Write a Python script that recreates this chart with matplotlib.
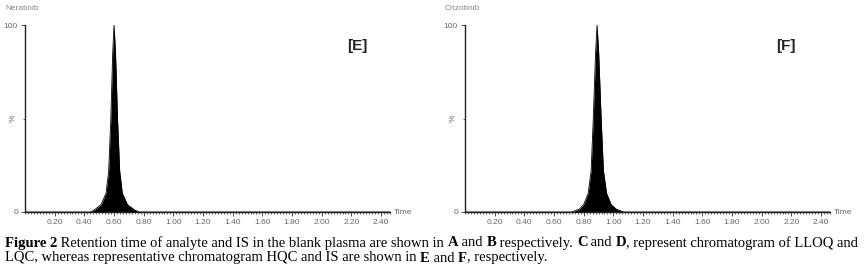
import matplotlib.pyplot as plt
import numpy as np
from matplotlib.ticker import MultipleLocator, FixedLocator

# peak profiles (time offset from apex in min, % intensity)
ner_apex = 0.60
ner_offsets = [-0.60, -0.16, -0.135, -0.087, -0.054, -0.036, -0.022, -0.009, 0.0,
               0.010, 0.024, 0.038, 0.056, 0.090, 0.140, 0.17, 1.90]
ner_intensity = [0, 0, 1, 4, 10, 22, 49, 85, 100, 85, 49, 22, 10, 4, 1, 0, 0]

criz_apex = 0.89
criz_offsets = [-0.89, -0.17, -0.12, -0.09, -0.06, -0.04, -0.026, -0.010, 0.0,
                0.011, 0.028, 0.043, 0.064, 0.095, 0.130, 0.18, 1.60]
criz_intensity = [0, 0, 1.5, 4, 10, 22, 49, 85, 100, 85, 49, 22, 10, 4, 1.5, 0, 0]

tick_values = [0.20, 0.40, 0.60, 0.80, 1.00, 1.20, 1.40, 1.60, 1.80, 2.00, 2.20, 2.40]
panels = [
    ('Neratinib', ner_apex, ner_offsets, ner_intensity, '[E]'),
    ('Crizotinib', criz_apex, criz_offsets, criz_intensity, '[F]'),
]

# caption pieces: (text, bold)
caption_line1 = [('Figure 2', True), (' Retention time of analyte and IS in the blank plasma are shown in ', False),
                 ('A', True), (' and ', False), ('B', True), (' respectively. ', False),
                 ('C', True), (' and ', False), ('D', True),
                 (', represent chromatogram of LLOQ and', False)]
caption_line2 = [('LQC, whereas representative chromatogram HQC and IS are shown in ', False),
                 ('E', True), (' and ', False), ('F', True), (', respectively.', False)]

W, H = 866, 276
fig = plt.figure(figsize=(W / 100, H / 100), dpi=100)
plt.rcParams['font.family'] = ['Liberation Sans', 'DejaVu Sans']

ax_left_px = [25, 465]
ax_width_px = 365
y0_px, y100_px = 212, 25
gray = '#666666'

for (name, apex, offs, inten, tag), lp in zip(panels, ax_left_px):
    ax = fig.add_axes([lp / W, (H - y0_px) / H, ax_width_px / W, (y0_px - y100_px) / H])
    t = apex + np.array(offs)
    ax.fill_between(t, 0, inten, color='black', lw=0)
    ax.plot(t, inten, color='black', lw=0.6)
    ax.set_xlim(0, 2.46)
    ax.set_ylim(0, 100)
    ax.spines['top'].set_visible(False)
    ax.spines['right'].set_visible(False)
    ax.spines['left'].set_color('#222222')
    ax.spines['bottom'].set_color('#222222')
    ax.spines['left'].set_linewidth(1.0)
    ax.spines['bottom'].set_linewidth(1.0)
    ax.xaxis.set_major_locator(FixedLocator(tick_values))
    ax.set_xticklabels(['%.2f' % v for v in tick_values])
    ax.xaxis.set_minor_locator(MultipleLocator(0.02))
    ax.set_yticks([0, 100])
    ax.set_yticklabels(['0', '100'])
    ax.yaxis.set_minor_locator(FixedLocator([50]))
    ax.tick_params(axis='both', which='major', labelsize=6, labelcolor=gray,
                   length=3, width=0.6, color='#333333', pad=2)
    ax.tick_params(axis='both', which='minor', length=1.5, width=0.5, color='#333333')
    ax.text(-0.022, 50, '%', transform=ax.get_yaxis_transform(), rotation=90,
            ha='right', va='center', fontsize=6, color=gray)
    ax.text(1.01, 0, 'Time', transform=ax.transAxes, ha='left', va='center',
            fontsize=6, color=gray)
    ax.text(-0.055, 1.09, name, transform=ax.transAxes, ha='left', va='center',
            fontsize=6, color='#888888')
    ax.text(0.91 if tag == '[E]' else 0.88, 0.89, tag, transform=ax.transAxes,
            ha='center', va='center', fontsize=11, fontweight='bold', color='#222222')

serif = ['Liberation Serif', 'DejaVu Serif']
fig.canvas.draw()
renderer = fig.canvas.get_renderer()


def piece_width(txt, bold, size):
    # measure with guard characters so leading/trailing spaces count exactly once
    w = fig.text(0, 0, '|' + txt + '|', family=serif, fontsize=size,
                 fontweight='bold' if bold else 'normal')
    g = fig.text(0, 0, '||', family=serif, fontsize=size,
                 fontweight='bold' if bold else 'normal')
    width = w.get_window_extent(renderer=renderer).width - g.get_window_extent(renderer=renderer).width
    w.remove()
    g.remove()
    return width


def draw_line(pieces, x_px, y_px, size):
    x = x_px
    for txt, bold in pieces:
        fig.text(x / W, 1 - y_px / H, txt, family=serif, fontsize=size,
                 fontweight='bold' if bold else 'normal', va='center', ha='left')
        x += piece_width(txt, bold, size)


draw_line(caption_line1, 5, 243, 10.5)
draw_line(caption_line2, 5, 258, 10.5)

fig.savefig('out.png', dpi=100)
